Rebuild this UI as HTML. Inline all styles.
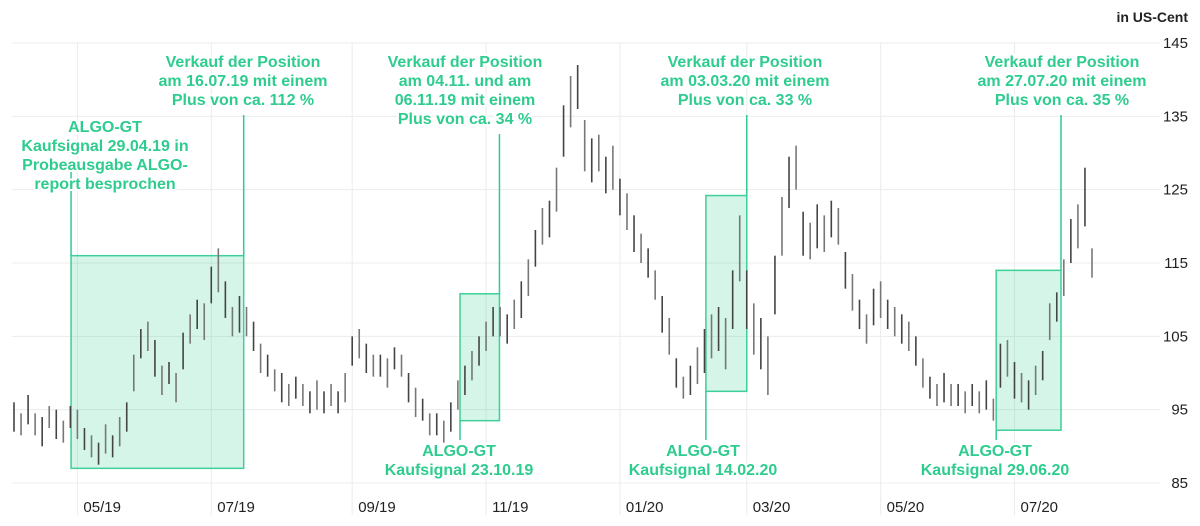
<!DOCTYPE html>
<html><head><meta charset="utf-8"><style>
body{margin:0;background:#fff;}
svg{display:block;font-family:"Liberation Sans",sans-serif;}
</style></head><body>
<svg id="chart" width="1200" height="526" viewBox="0 0 1200 526">
<g id="grid"></g>
<g id="boxes"></g>
<g id="bars"></g>
<g id="ann"></g>
<text x="1188" y="22" text-anchor="end" font-size="14" font-weight="bold" fill="#222">in US-Cent</text>
</svg>
<script>
const yTicks=[85,95,105,115,125,135,145];
const xTickLabels=["05/19","07/19","09/19","11/19","01/20","03/20","05/20","07/20"];
const xTickIdx=[9,28,48,67,86,104,123,142];
const mids=[94,93,95,93,92,94,93,92,94, 93,91,90, 89,91,90,92,94, 100,104,105, 102,99,100,98, 103,106,108,107, 112,114,110, 107,108,107,105, 102,101,99,98,97,98, 97,96,97,96,97,96, 98,103,104,102,101, 101,100,102,101,98, 96,95,93,93,92,94, 97,99,101,103,105,107, 107,106,108,110,113, 117,120,121,125, 133,137,139,131, 129,130,127,128, 124,122,119,117,115, 112,108,105,100,98, 99,101,103,105, 106,104,110,117, 110,106,104,101, 112,120,126,128, 119,118,120,119,121,120, 114,111,108,106, 109,110,108,107,106, 105,103,100,98,97, 98,97,97,96,97,96,97,95, 101,102,99,98,97, 99,101,107,109, 113,118,120,124, 115];
const spans=[4,3,4,3,4,3,4,3,3, 4,3,3, 3,4,3,4,4, 5,4,4, 5,4,3,4, 5,4,4,5, 5,6,5, 4,5,4,4, 4,3,3,4,3,3, 3,3,4,3,3,3, 4,4,4,4,3, 3,4,3,3,4, 4,3,3,3,3,4, 4,4,4,4,4,4, 4,4,4,5,5, 5,5,5,6, 7,7,6,7, 6,5,5,6, 5,5,5,4,4, 4,5,5,4,3, 4,5,6,6, 6,7,8,9, 8,7,7,8, 8,8,7,6, 6,5,6,5,5,5, 5,5,4,4, 5,5,4,4,4, 4,4,4,3,3, 4,3,3,3,3,3,4,3, 6,5,5,4,4, 4,4,5,4, 5,6,6,8, 4];
const boxes=[
 {i0:8.1,i1:32.6,lo:87,hi:116,name:"signal-box-2019-04"},
 {i0:63.3,i1:68.9,lo:93.5,hi:110.8,name:"signal-box-2019-10"},
 {i0:98.2,i1:104.0,lo:97.5,hi:124.2,name:"signal-box-2020-02"},
 {i0:139.4,i1:148.6,lo:92.2,hi:114,name:"signal-box-2020-06"}];
const X0=14,X1=1092;
const xs=i=>X0+i*(X1-X0)/(mids.length-1);
const ys=v=>483-(v-85)*73.33/10;
const NS="http://www.w3.org/2000/svg";
function mk(t,a,p){const e=document.createElementNS(NS,t);for(const k in a)e.setAttribute(k,a[k]);p.appendChild(e);return e;}
const grid=document.getElementById('grid');
yTicks.forEach(v=>{
 const l=mk('line',{x1:12,x2:1160,y1:ys(v),y2:ys(v),stroke:'#ececec'},grid);
 
 
 const t=mk('text',{x:1188,y:ys(v)+5,'text-anchor':'end','font-size':15,fill:'#222'},grid);
 t.textContent=v;
 
 
});
xTickIdx.forEach((ix,k)=>{
 const x=xs(ix);
 const l=mk('line',{x1:x,x2:x,y1:43,y2:515,stroke:'#ececec'},grid);
 
 
 const t=mk('text',{x:x+6,y:512,'font-size':15,fill:'#222'},grid);
 t.textContent=xTickLabels[k];
 
 
});
const bx=document.getElementById('boxes');
boxes.forEach(b=>{
 const r=mk('rect',{x:xs(b.i0),y:ys(b.hi),width:xs(b.i1)-xs(b.i0),height:ys(b.lo)-ys(b.hi),fill:'rgba(46,204,143,0.2)',stroke:'#3fcf98','stroke-width':1.5},bx);
 
 
});
const bars=document.getElementById('bars');
mids.forEach((m,i)=>{
 const x=xs(i);
 const l=mk('line',{x1:x,x2:x,y1:ys(m+spans[i]/2),y2:ys(m-spans[i]/2),stroke:i%2?'#777':'#444','stroke-width':1.6},bars);
 
 
});
const ann=document.getElementById('ann');
const G='#2ecc8f';
function lineV(x,y1,y2){const l=mk('line',{x1:x,x2:x,y1:y1,y2:y2,stroke:G,'stroke-width':1.5},ann);
 
 }
lineV(xs(8.1),170,ys(116));lineV(xs(32.6),115,ys(116));
lineV(xs(63.3),ys(93.5),440);lineV(xs(68.9),134,ys(110.8));
lineV(xs(98.2),ys(97.5),440);lineV(xs(104.0),115,ys(124.2));
lineV(xs(139.4),ys(92.2),440);lineV(xs(148.6),115,ys(114));
function label(cx,y0,lines,name){
 const g=mk('g',{},ann);
 
 
 lines.forEach((s,k)=>{
  const t=mk('text',{x:cx,y:y0+k*19,'text-anchor':'middle','font-size':16,'font-weight':'bold',fill:G,stroke:'#fff','stroke-width':4,'paint-order':'stroke'},g);
  t.textContent=s;
 });
}
label(243,67,["Verkauf der Position","am 16.07.19 mit einem","Plus von ca. 112 %"],"sell-note-2019-07");
label(105,132,["ALGO-GT","Kaufsignal 29.04.19 in","Probeausgabe ALGO-","report besprochen"],"buy-note-2019-04");
label(465,67,["Verkauf der Position","am 04.11. und am","06.11.19 mit einem","Plus von ca. 34 %"],"sell-note-2019-11");
label(745,67,["Verkauf der Position","am 03.03.20 mit einem","Plus von ca. 33 %"],"sell-note-2020-03");
label(1062,67,["Verkauf der Position","am 27.07.20 mit einem","Plus von ca. 35 %"],"sell-note-2020-07");
label(459,456,["ALGO-GT","Kaufsignal 23.10.19"],"buy-note-2019-10");
label(703,456,["ALGO-GT","Kaufsignal 14.02.20"],"buy-note-2020-02");
label(995,456,["ALGO-GT","Kaufsignal 29.06.20"],"buy-note-2020-06");
</script>
</body></html>
